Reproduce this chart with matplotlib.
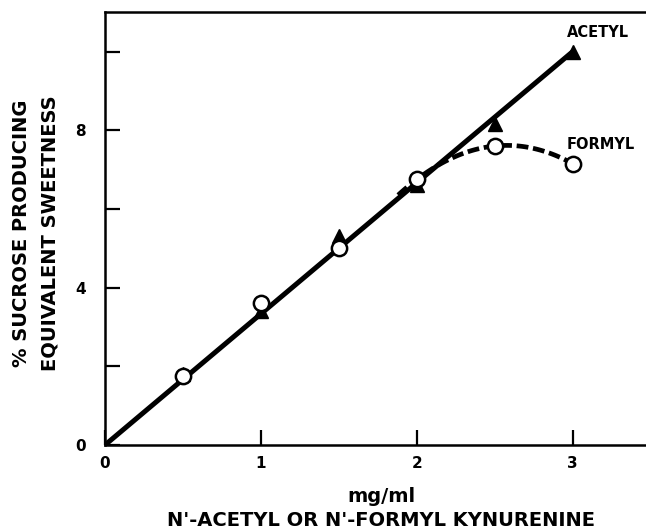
import numpy as np
import matplotlib.pyplot as plt

# data
conc = [0.5, 1.0, 1.5, 2.0, 2.5, 3.0]
acetyl = [1.8, 3.4, 5.3, 6.6, 8.15, 10.0]
formyl = [1.75, 3.6, 5.0, 6.75, 7.6, 7.15]

yticks = [0, 2, 4, 6, 8, 10]
ytick_labels = ['0', '', '4', '', '8', '']
xticks = [0, 1, 2, 3]

plt.rcParams['font.family'] = ['DejaVu Sans']
plt.rcParams['font.weight'] = 'bold'

fig = plt.figure(figsize=(6.46, 5.32), dpi=100)
ax = fig.add_axes([0.1625, 0.1635, 0.8375, 0.8135])

# solid line: straight through origin to last acetyl point
ax.plot([0, conc[-1]], [0, acetyl[-1]], color='k', lw=3.6, solid_capstyle='butt', zorder=2)

# dashed curve through the last three formyl points (quadratic fit)
c = np.polyfit(conc[3:], formyl[3:], 2)
xs = np.linspace(conc[3] - 0.12, conc[-1], 60)
ax.plot(xs, np.polyval(c, xs), color='k', lw=3.4, ls=(0, (2.5, 1.0)), zorder=2)

ax.plot(conc, acetyl, ls='none', marker='^', ms=9.5, color='k', zorder=3)
ax.plot(conc, formyl, ls='none', marker='o', ms=11, mfc='white', mec='k', mew=1.8, zorder=4)

ax.text(3.16, 10.48, 'ACETYL', fontsize=10.5, fontweight='bold', ha='center', va='center')
ax.text(2.96, 7.63, 'FORMYL', fontsize=10.5, fontweight='bold', ha='left', va='center')

ax.set_xlim(0, 3.47)
ax.set_ylim(0, 11)
ax.set_xticks(xticks)
ax.set_yticks(yticks)
ax.set_yticklabels(ytick_labels)
ax.tick_params(direction='in', length=11, width=1.6, labelsize=11, pad=8)
ax.tick_params(axis='y', pad=14)

ax.spines['right'].set_visible(False)
for s in ['left', 'top', 'bottom']:
    ax.spines[s].set_linewidth(1.8)

fig.text(0.59, 0.0442, "mg/ml\nN'-ACETYL OR N'-FORMYL KYNURENINE", fontsize=14,
         fontweight='bold', ha='center', va='center', multialignment='center', linespacing=1.3)
fig.text(0.055, 0.562, '% SUCROSE PRODUCING\nEQUIVALENT SWEETNESS', fontsize=14,
         fontweight='bold', rotation=90, ha='center', va='center', multialignment='center',
         linespacing=1.6)

fig.savefig('out.png', dpi=100)
